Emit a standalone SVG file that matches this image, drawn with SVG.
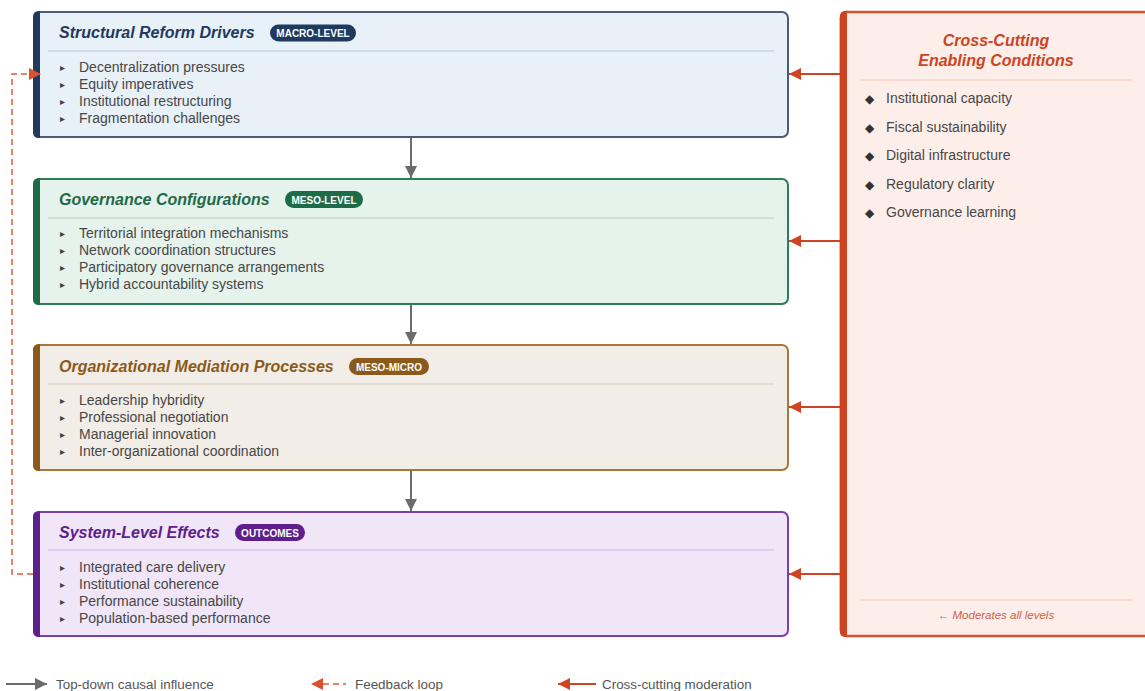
<svg xmlns="http://www.w3.org/2000/svg" width="1145" height="691" viewBox="0 0 1145 691">
<style>
text{font-family:"Liberation Sans",Arial,sans-serif}
.title{font-size:16px;font-weight:bold;font-style:italic}
.badge{font-size:10px;font-weight:bold;fill:#fff;text-anchor:middle}
.item{font-size:14px;fill:#474747}
.bul{font-size:10px;fill:#444;font-family:"DejaVu Sans",sans-serif}
.dia{font-size:12px;fill:#333;font-family:"DejaVu Sans",sans-serif}
.leg{font-size:13.4px;fill:#555}
.down{stroke:#6b6b6b;stroke-width:2;fill:none}
.cross{stroke:#cc4422;stroke-width:2;fill:none}
.fb{stroke:#e05a3a;stroke-width:1.5;fill:none;stroke-dasharray:6 4}
</style>
<defs>
<marker id="mDown" viewBox="0 0 12 12" refX="12" refY="6" markerWidth="12" markerHeight="12" markerUnits="userSpaceOnUse" orient="auto"><path d="M0,0 L12,6 L0,12 z" fill="#6b6b6b"/></marker>
<marker id="mCross" viewBox="0 0 12 12" refX="12" refY="6" markerWidth="12" markerHeight="12" markerUnits="userSpaceOnUse" orient="auto"><path d="M0,0 L12,6 L0,12 z" fill="#cc4422"/></marker>
<marker id="mFb" viewBox="0 0 12 12" refX="12" refY="6" markerWidth="12" markerHeight="12" markerUnits="userSpaceOnUse" orient="auto"><path d="M0,0 L12,6 L0,12 z" fill="#d9502c"/></marker>
</defs>
<rect width="1145" height="691" fill="#ffffff"/>

<g id="node-drivers">
<rect x="34" y="12" width="754" height="125" rx="6" fill="#e8f0f8" stroke="#4a5d7a" stroke-width="2"/>
<path d="M40,11 L40,138 L39,138 Q33,138 33,132 L33,17 Q33,11 39,11 Z" fill="#1f3a5f"/>
<text class="title" x="59" y="38" fill="#1f3a5f">Structural Reform Drivers</text>
<rect x="270" y="24.5" width="86" height="17" rx="8.5" fill="#1f3a5f"/>
<text class="badge" x="313" y="37">MACRO-LEVEL</text>
<line x1="48" y1="51" x2="774" y2="51" stroke="#c8d4e2" stroke-width="1.5"/>
<text class="bul" x="60" y="70.5">▸</text><text class="item" x="79" y="72">Decentralization pressures</text>
<text class="bul" x="60" y="87.5">▸</text><text class="item" x="79" y="89">Equity imperatives</text>
<text class="bul" x="60" y="104.5">▸</text><text class="item" x="79" y="106">Institutional restructuring</text>
<text class="bul" x="60" y="121.5">▸</text><text class="item" x="79" y="123">Fragmentation challenges</text>
</g>

<g id="node-governance">
<rect x="34" y="179" width="754" height="125" rx="6" fill="#e6f2ec" stroke="#2e7d57" stroke-width="2"/>
<path d="M40,178 L40,305 L39,305 Q33,305 33,299 L33,184 Q33,178 39,178 Z" fill="#1e6b47"/>
<text class="title" x="59" y="205" fill="#1e6b47">Governance Configurations</text>
<rect x="285" y="191" width="78" height="17" rx="8.5" fill="#1e6b47"/>
<text class="badge" x="324" y="203.5">MESO-LEVEL</text>
<line x1="48" y1="218" x2="774" y2="218" stroke="#c5ddd0" stroke-width="1.5"/>
<text class="bul" x="60" y="236.5">▸</text><text class="item" x="79" y="238">Territorial integration mechanisms</text>
<text class="bul" x="60" y="253.5">▸</text><text class="item" x="79" y="255">Network coordination structures</text>
<text class="bul" x="60" y="270.5">▸</text><text class="item" x="79" y="272">Participatory governance arrangements</text>
<text class="bul" x="60" y="287.5">▸</text><text class="item" x="79" y="289">Hybrid accountability systems</text>
</g>

<g id="node-mediation">
<rect x="34" y="345" width="754" height="125" rx="6" fill="#f2ede6" stroke="#a8773a" stroke-width="2"/>
<path d="M40,344 L40,471 L39,471 Q33,471 33,465 L33,350 Q33,344 39,344 Z" fill="#8b5a1b"/>
<text class="title" x="59" y="372" fill="#8b5a1b">Organizational Mediation Processes</text>
<rect x="349" y="358" width="80" height="17" rx="8.5" fill="#8b5a1b"/>
<text class="badge" x="389" y="370.5">MESO-MICRO</text>
<line x1="48" y1="384" x2="774" y2="384" stroke="#e2d7c8" stroke-width="1.5"/>
<text class="bul" x="60" y="403.5">▸</text><text class="item" x="79" y="405">Leadership hybridity</text>
<text class="bul" x="60" y="420.5">▸</text><text class="item" x="79" y="422">Professional negotiation</text>
<text class="bul" x="60" y="437.5">▸</text><text class="item" x="79" y="439">Managerial innovation</text>
<text class="bul" x="60" y="454.5">▸</text><text class="item" x="79" y="456">Inter-organizational coordination</text>
</g>

<g id="node-effects">
<rect x="34" y="512" width="754" height="124" rx="6" fill="#f0e6f7" stroke="#7b3fb0" stroke-width="2"/>
<path d="M40,511 L40,637 L39,637 Q33,637 33,631 L33,517 Q33,511 39,511 Z" fill="#5e1e8c"/>
<text class="title" x="59" y="538" fill="#5e1e8c">System-Level Effects</text>
<rect x="235" y="524" width="70" height="17" rx="8.5" fill="#5e1e8c"/>
<text class="badge" x="270" y="536.5">OUTCOMES</text>
<line x1="48" y1="550" x2="774" y2="550" stroke="#d9c8ea" stroke-width="1.5"/>
<text class="bul" x="60" y="570.5">▸</text><text class="item" x="79" y="572">Integrated care delivery</text>
<text class="bul" x="60" y="587.5">▸</text><text class="item" x="79" y="589">Institutional coherence</text>
<text class="bul" x="60" y="604.5">▸</text><text class="item" x="79" y="606">Performance sustainability</text>
<text class="bul" x="60" y="621.5">▸</text><text class="item" x="79" y="623">Population-based performance</text>
</g>

<g id="node-conditions">
<rect x="841" y="12" width="330" height="624" rx="6" fill="#fdeee9" stroke="#d4532e" stroke-width="2.5"/>
<path d="M847,10.8 L847,637.2 L846,637.2 Q839.8,637.2 839.8,631 L839.8,17 Q839.8,10.8 846,10.8 Z" fill="#cc4422"/>
<text class="title" x="996" y="46" fill="#cc4422" text-anchor="middle">Cross-Cutting</text>
<text class="title" x="996" y="66" fill="#cc4422" text-anchor="middle">Enabling Conditions</text>
<line x1="860" y1="80" x2="1132" y2="80" stroke="#f5c8bb" stroke-width="1.2"/>
<text class="dia" x="865" y="103">◆</text><text class="item" x="886" y="103">Institutional capacity</text>
<text class="dia" x="865" y="132">◆</text><text class="item" x="886" y="132">Fiscal sustainability</text>
<text class="dia" x="865" y="160">◆</text><text class="item" x="886" y="160">Digital infrastructure</text>
<text class="dia" x="865" y="189">◆</text><text class="item" x="886" y="189">Regulatory clarity</text>
<text class="dia" x="865" y="217">◆</text><text class="item" x="886" y="217">Governance learning</text>
<line x1="860" y1="600" x2="1132" y2="600" stroke="#f5c8bb" stroke-width="1.2"/>
<text x="996" y="619" font-size="11.5" font-style="italic" fill="#d0604a" text-anchor="middle">← Moderates all levels</text>
</g>

<g id="connectors">
<line class="down" x1="411" y1="138" x2="411" y2="178" marker-end="url(#mDown)"/>
<line class="down" x1="411" y1="305" x2="411" y2="344" marker-end="url(#mDown)"/>
<line class="down" x1="411" y1="471" x2="411" y2="511" marker-end="url(#mDown)"/>
<line class="cross" x1="840" y1="74" x2="789" y2="74" marker-end="url(#mCross)"/>
<line class="cross" x1="840" y1="241" x2="789" y2="241" marker-end="url(#mCross)"/>
<line class="cross" x1="840" y1="407" x2="789" y2="407" marker-end="url(#mCross)"/>
<line class="cross" x1="840" y1="574" x2="789" y2="574" marker-end="url(#mCross)"/>
<path class="fb" d="M33,574 H12 V74 H41" marker-end="url(#mFb)"/>
</g>

<g id="legend">
<line class="down" x1="6" y1="684" x2="47" y2="684" marker-end="url(#mDown)"/>
<text class="leg" x="56" y="689">Top-down causal influence</text>
<path d="M311,684 L323,678 L323,690 z" fill="#d9502c"/>
<line x1="323" y1="684" x2="346" y2="684" stroke="#e05a3a" stroke-width="1.5" stroke-dasharray="6 4"/>
<text class="leg" x="355" y="689">Feedback loop</text>
<line class="cross" x1="596" y1="684" x2="558" y2="684" marker-end="url(#mCross)"/>
<text class="leg" x="602" y="689">Cross-cutting moderation</text>
</g>
</svg>
